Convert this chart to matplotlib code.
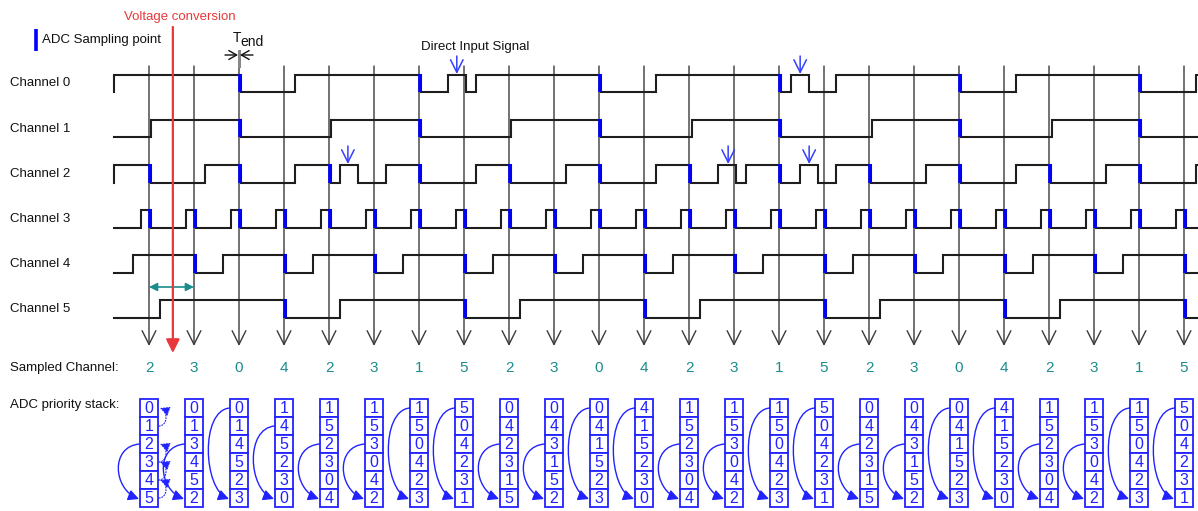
import matplotlib
matplotlib.use("Agg")
import matplotlib.pyplot as plt
from matplotlib.path import Path
from matplotlib.patches import FancyArrowPatch, Rectangle

plt.rcParams['font.family'] = ['Liberation Sans', 'DejaVu Sans']

# ---------------- data ----------------
channel_names = ["Channel 0", "Channel 1", "Channel 2", "Channel 3", "Channel 4", "Channel 5"]
sampled_channel = [2, 3, 0, 4, 2, 3, 1, 5, 2, 3, 0, 4, 2, 3, 1, 5, 2, 3, 0, 4, 2, 3, 1, 5]
sample_times = list(range(len(sampled_channel)))
signal_start = -0.78

# toggle times (in sample periods), each signal starts low
ch0_edges = [-0.78, 2.04, 3.24, 6.04, 6.64, 7.04, 7.27, 10.04, 11.27, 14.04, 14.27, 14.67,
             15.27, 18.04, 19.27, 22.04, 23.27]
ch1_edges = [0.04, 2.04, 4.04, 6.04, 8.04, 10.04, 12.07, 14.04, 16.07, 18.04, 20.07, 22.04]
ch2_edges = [-0.78, 0.04, 1.24, 2.04, 3.24, 4.04, 4.24, 4.64, 5.27, 6.04, 7.27, 8.04, 9.27,
             10.04, 11.27, 12.04, 12.64, 13.04, 13.27, 14.04, 14.47, 14.87, 15.27, 16.04,
             17.27, 18.04, 19.27, 20.04, 21.27, 22.04, 23.27]
ch3_edges = [-0.18, 0.04, 0.82, 1.04, 1.82, 2.04, 2.82, 3.04, 3.82, 4.04, 4.82, 5.04,
             5.82, 6.04, 6.82, 7.04, 7.82, 8.04, 8.82, 9.04, 9.82, 10.04, 10.82, 11.04,
             11.82, 12.04, 12.82, 13.04, 13.82, 14.04, 14.82, 15.04, 15.82, 16.04, 16.82, 17.04,
             17.82, 18.04, 18.82, 19.04, 19.82, 20.04, 20.82, 21.04, 21.82, 22.04, 22.82, 23.04]
ch4_edges = [-0.36, 1.04, 1.64, 3.04, 3.64, 5.04, 5.64, 7.04, 7.64, 9.04, 9.64, 11.04,
             11.64, 13.04, 13.64, 15.04, 15.64, 17.04, 17.64, 19.04, 19.64, 21.04, 21.64, 23.04]
ch5_edges = [0.24, 3.04, 4.24, 7.04, 8.24, 11.04, 12.24, 15.04, 16.24, 19.04, 20.24, 23.04]
channel_edges = [ch0_edges, ch1_edges, ch2_edges, ch3_edges, ch4_edges, ch5_edges]

# ADC sampling points (sample index) marked in blue on each channel
ch0_marks = [2, 6, 10, 14, 18, 22]
ch1_marks = [2, 6, 10, 14, 18, 22]
ch2_marks = [0, 2, 4, 6, 8, 10, 12, 14, 16, 18, 20, 22]
ch3_marks = [0, 1, 2, 3, 4, 5, 6, 7, 8, 9, 10, 11, 12, 13, 14, 15, 16, 17, 18, 19, 20, 21, 22, 23]
ch4_marks = [1, 3, 5, 7, 9, 11, 13, 15, 17, 19, 21, 23]
ch5_marks = [3, 7, 11, 15, 19, 23]
channel_marks = [ch0_marks, ch1_marks, ch2_marks, ch3_marks, ch4_marks, ch5_marks]

# direct input signal arrows (channel, time)
input_arrow_channel = [0, 0, 2, 2, 2]
input_arrow_time = [6.84, 14.47, 4.42, 12.87, 14.67]

voltage_conversion_time = 0.53

priority_stacks = [
    [0, 1, 2, 3, 4, 5], [0, 1, 3, 4, 5, 2], [0, 1, 4, 5, 2, 3], [1, 4, 5, 2, 3, 0],
    [1, 5, 2, 3, 0, 4], [1, 5, 3, 0, 4, 2], [1, 5, 0, 4, 2, 3], [5, 0, 4, 2, 3, 1],
    [0, 4, 2, 3, 1, 5], [0, 4, 3, 1, 5, 2], [0, 4, 1, 5, 2, 3], [4, 1, 5, 2, 3, 0],
    [1, 5, 2, 3, 0, 4], [1, 5, 3, 0, 4, 2], [1, 5, 0, 4, 2, 3], [5, 0, 4, 2, 3, 1],
    [0, 4, 2, 3, 1, 5], [0, 4, 3, 1, 5, 2], [0, 4, 1, 5, 2, 3], [4, 1, 5, 2, 3, 0],
    [1, 5, 2, 3, 0, 4], [1, 5, 3, 0, 4, 2], [1, 5, 0, 4, 2, 3], [5, 0, 4, 2, 3, 1],
]
first_stack_shifts = [(1, 0), (3, 2), (4, 3), (5, 4)]

# ---------------- layout ----------------
W, H = 1198, 511
X0, DX = 149.0, 45.0


def px(x):
    return (x - X0) / DX


def dpx(d):
    return d / DX


HIGH_Y = [75, 120, 165, 210, 255, 300]
LOW_Y = [92, 137, 183, 228, 273, 318]
LINE_COL = '#1e1e1e'
BLUE = '#0000ff'
STACK_BLUE = '#2222ff'
TEAL = '#1a8c8c'
RED = '#e8383a'
FS = 9.5

fig = plt.figure(figsize=(W / 100, H / 100), dpi=100)
ax = fig.add_axes([0, 0, 1, 1])
ax.set_xlim(px(0), px(W))
ax.set_ylim(H, 0)
ax.axis('off')

# sampling lines with open arrowheads
for t in sample_times:
    ax.annotate('', xy=(t, 346), xytext=(t, 66),
                arrowprops=dict(arrowstyle='->,head_length=0.9,head_width=0.45',
                                color='#3a3a3a', lw=1.0, shrinkA=0, shrinkB=0,
                                mutation_scale=11), zorder=1)

# channel waveforms
xmax = px(W)
for r, edges in enumerate(channel_edges):
    hi, lo = HIGH_Y[r], LOW_Y[r]
    level = lo
    xs, ys = [signal_start], [lo]
    for t in edges:
        xs.append(t); ys.append(level)
        level = hi if level == lo else lo
        xs.append(t); ys.append(level)
    xs.append(xmax); ys.append(level)
    ax.plot(xs, ys, color=LINE_COL, lw=1.5, solid_joinstyle='miter', zorder=3)
    ax.text(px(10), (hi + lo) / 2, channel_names[r], fontsize=FS, va='center',
            ha='left', color='#111111')
    for k in channel_marks[r]:
        ax.plot([sample_times[k] + dpx(0.8)] * 2, [hi - 1, lo], color=BLUE, lw=2.6,
                solid_capstyle='butt', zorder=4)

# direct input arrows
for ch, t in zip(input_arrow_channel, input_arrow_time):
    top = HIGH_Y[ch]
    ax.annotate('', xy=(t, top - 1), xytext=(t, top - 19),
                arrowprops=dict(arrowstyle='->,head_length=0.9,head_width=0.45',
                                color='#3340ff', lw=1.1, shrinkA=0, shrinkB=0,
                                mutation_scale=10), zorder=5)
ax.text(px(421), 47, 'Direct Input Signal', fontsize=FS, va='center', ha='left',
        color='#111111')

# legend
ax.plot([px(36)] * 2, [29, 51], color=BLUE, lw=2.6, solid_capstyle='butt')
ax.text(px(42), 40, 'ADC Sampling point', fontsize=FS, va='center', ha='left',
        color='#111111')

# T_end
tcol = sample_times[2]
ax.plot([tcol, tcol], [51, 66], color='#888888', lw=2.2, zorder=2)
ax.annotate('', xy=(tcol - dpx(1), 55), xytext=(tcol - dpx(14), 55),
            arrowprops=dict(arrowstyle='->,head_length=0.7,head_width=0.4', color='#111111',
                            lw=1.0, shrinkA=0, shrinkB=0, mutation_scale=8))
ax.annotate('', xy=(tcol + dpx(1), 55), xytext=(tcol + dpx(14), 55),
            arrowprops=dict(arrowstyle='->,head_length=0.7,head_width=0.4', color='#111111',
                            lw=1.0, shrinkA=0, shrinkB=0, mutation_scale=8))
ax.text(px(233), 42, 'T', fontsize=FS + 0.5, va='baseline', ha='left', color='#111111')
ax.text(px(240.5), 45.5, 'end', fontsize=FS + 0.5, va='baseline', ha='left', color='#111111')

# teal double arrow
ax.annotate('', xy=(sample_times[1], 287), xytext=(sample_times[0], 287),
            arrowprops=dict(arrowstyle='<|-|>,head_length=0.6,head_width=0.3', color=TEAL,
                            lw=1.2, shrinkA=0, shrinkB=0, mutation_scale=8))

# voltage conversion
ax.annotate('', xy=(voltage_conversion_time, 353), xytext=(voltage_conversion_time, 27),
            arrowprops=dict(arrowstyle='-|>,head_length=0.9,head_width=0.45', color=RED,
                            lw=1.6, shrinkA=0, shrinkB=0, mutation_scale=9), zorder=6)
ax.text(px(180), 17, 'Voltage conversion', fontsize=FS, va='center', ha='center', color=RED)

# sampled channel row
ax.text(px(10), 368, 'Sampled Channel:', fontsize=FS, va='center', ha='left', color='#111111')
for t, c in zip(sample_times, sampled_channel):
    ax.text(t, 368, str(c), fontsize=11, va='center', ha='center', color=TEAL)

# priority stacks
ax.text(px(10), 405, 'ADC priority stack:', fontsize=FS, va='center', ha='left', color='#111111')
CELL = 18
TOP = 399
half_w = dpx(9)
for t, stack, c in zip(sample_times, priority_stacks, sampled_channel):
    for i, v in enumerate(stack):
        ax.add_patch(Rectangle((t - half_w, TOP + CELL * i), 2 * half_w, CELL,
                               facecolor='white', edgecolor=STACK_BLUE, lw=1.3, zorder=3))
        ax.text(t, TOP + CELL * i + CELL / 2 + 0.5, str(v), fontsize=11.5, va='center',
                ha='center', color=STACK_BLUE, zorder=4)
    r = stack.index(c)
    y0 = TOP + CELL * r + CELL / 2
    y1 = TOP + CELL * 5 + CELL / 2
    xl = t - half_w
    path = Path([(xl, y0), (xl - dpx(30), y0 + 2), (xl - dpx(27), y1 - 9),
                 (xl - dpx(1), y1 + 1)],
                [Path.MOVETO, Path.CURVE4, Path.CURVE4, Path.CURVE4])
    ax.add_patch(FancyArrowPatch(path=path, arrowstyle='-|>,head_length=0.8,head_width=0.4',
                                 mutation_scale=8, color=STACK_BLUE, lw=1.0, zorder=5))

# dotted shift arrows on the first stack
t0 = sample_times[0]
xr = t0 + half_w + dpx(1)
for a, b in first_stack_shifts:
    ya = TOP + CELL * a + CELL / 2
    yb = TOP + CELL * b + CELL / 2
    kk = dpx(9)
    path = Path([(xr, ya), (xr + kk, ya), (xr + kk, yb + 3), (xr + dpx(1), yb)],
                [Path.MOVETO, Path.CURVE4, Path.CURVE4, Path.CURVE4])
    ax.add_patch(FancyArrowPatch(path=path, arrowstyle='-|>,head_length=0.8,head_width=0.4',
                                 mutation_scale=7, color=STACK_BLUE, lw=0.8,
                                 linestyle=(0, (1, 1.5)), zorder=5))

fig.savefig('out.png', dpi=100)
